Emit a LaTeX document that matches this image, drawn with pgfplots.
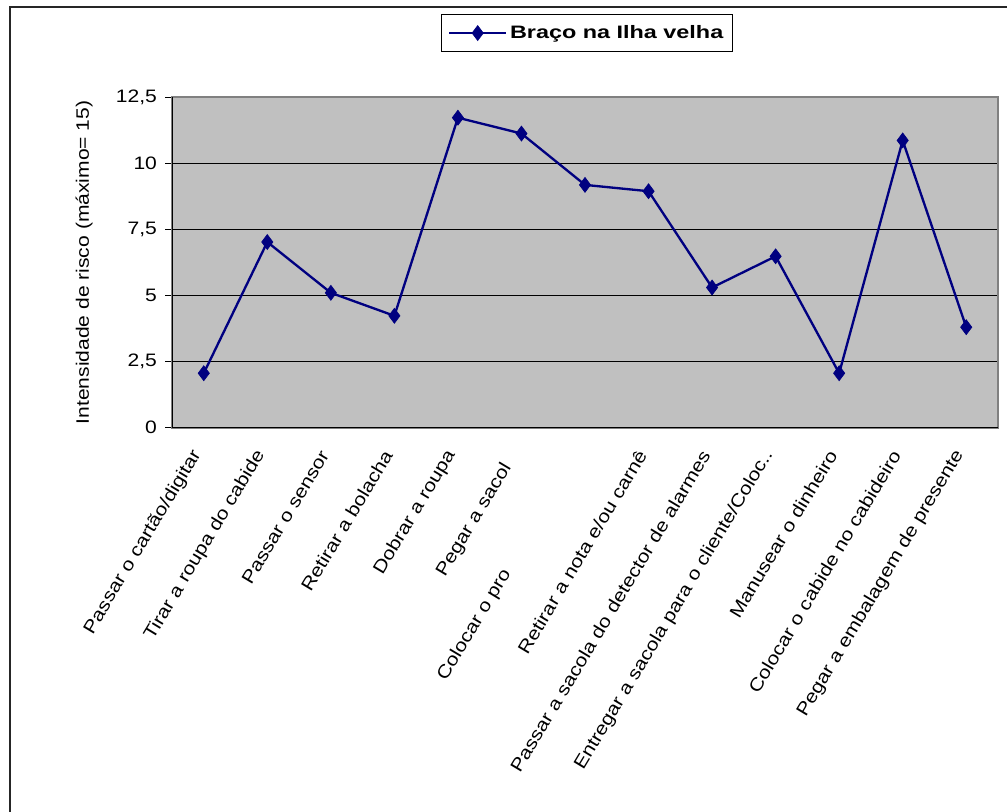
\documentclass[border=0pt]{standalone}
\usepackage{fontspec}
\setmainfont[FakeStretch=1.17]{Liberation Sans}
\newfontfamily\legfont[FakeStretch=1.3]{Liberation Sans}
\usepackage{pgfplots}
\pgfplotsset{compat=1.18}
\definecolor{plotbg}{HTML}{C0C0C0}
\definecolor{boxgray}{HTML}{808080}
\definecolor{navyline}{HTML}{000080}
\newcommand{\chfont}{\fontsize{13.5}{15.5}\selectfont}
\begin{document}
\begin{tikzpicture}
\useasboundingbox (0,0) rectangle (755.25pt,609pt);
\draw[line width=1.2pt, black!85] (7.5pt,-5pt) -- (7.5pt,603.75pt) -- (760pt,603.75pt);
\begin{axis}[
  at={(129pt,288.2pt)}, anchor=south west,
  scale only axis, width=619.5pt, height=248pt,
  xmin=0.5, xmax=13.5, ymin=0, ymax=12.5,
  xtick={1,...,13},
  xticklabels={Passar o cartão/digitar, Tirar a roupa do cabide, Passar o sensor, Retirar a bolacha, Dobrar a roupa, {Pegar a sacol\hspace*{11pt}}, {Colocar o pro\hspace*{104pt}}, Retirar a nota e/ou carnê, Passar a sacola do detector de alarmes, Entregar a sacola para o cliente/Coloc.., Manusear o dinheiro, Colocar o cabide no cabideiro, Pegar a embalagem de presente},
  ytick={0,2.5,5,7.5,10,12.5},
  /pgf/number format/assume math mode=true,
  y tick label style={/pgf/number format/.cd, use comma, fixed, precision=1, /tikz/.cd, font=\chfont, xshift=-2.5pt},
  x tick label style={font=\chfont, yshift=-10pt, xshift=-3pt, rotate=59, anchor=east},
  major x tick style={draw=none},
  ytick pos=left,
  tick align=outside,
  major tick length=5.25pt,
  y tick style={black, line width=0.75pt},
  ymajorgrids,
  grid style={black, line width=0.75pt},
  axis background/.style={fill=plotbg},
  axis line style={boxgray, line width=1.3pt},
  ylabel={Intensidade de risco (máximo= 15)},
  every axis y label/.style={at={(axis description cs:-0.1065,0.5)}, rotate=90, anchor=center, font=\chfont},
  legend style={at={(0.5024,1.1935)}, anchor=center, draw=black, line width=0.9pt, fill=white, font=\legfont\bfseries\chfont, inner xsep=5pt, inner ysep=6.3pt},
  legend image code/.code={\draw[mark repeat=2,mark phase=2] plot coordinates {(0pt,0pt) (21.4pt,0pt) (42.75pt,0pt)};},
]
\addplot[navyline, line width=1.75pt, mark=diamond*, mark size=5.6pt, mark options={fill=navyline, draw=navyline, line width=0.5pt}] coordinates {
(1,2.06) (2,7.02) (3,5.10) (4,4.23) (5,11.72) (6,11.12) (7,9.18) (8,8.94) (9,5.30) (10,6.48) (11,2.06) (12,10.86) (13,3.80)
};
\addlegendentry{Braço na Ilha velha}
\draw[black, line width=1pt] (rel axis cs:0,1) -- (rel axis cs:0,0) -- (rel axis cs:1,0);
\end{axis}
\end{tikzpicture}
\end{document}
